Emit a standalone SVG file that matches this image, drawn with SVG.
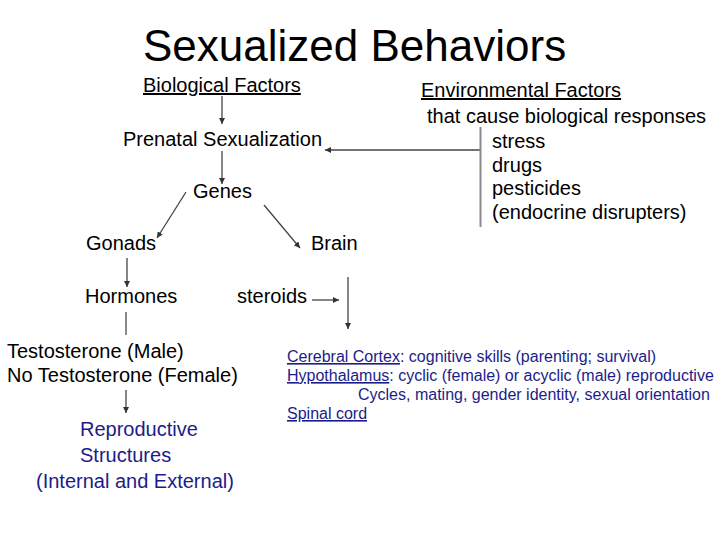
<svg xmlns="http://www.w3.org/2000/svg" width="720" height="540" viewBox="0 0 720 540">
<style>
text{font-family:"Liberation Sans",Arial,sans-serif;font-size:20px;fill:#000}
.title{font-size:44px}
.ul{text-decoration:underline}
.blue{fill:#1c1c8a}
.small{font-size:16px}
.c{fill:none;stroke:#444;stroke-width:1.3}
.g{fill:none;stroke:#8a8a8a;stroke-width:2}
</style>
<defs>
<marker id="ah" markerUnits="userSpaceOnUse" markerWidth="6" markerHeight="6" refX="6" refY="3" orient="auto">
<path d="M0,0 L6,3 L0,6 z" fill="#333"/>
</marker>
</defs>
<rect width="720" height="540" fill="#fff"/>
<g id="title"><text class="title" x="143" y="61">Sexualized Behaviors</text></g>
<g id="biological"><text class="ul" x="143" y="92">Biological Factors</text></g>
<g id="environmental">
<text class="ul" x="421" y="97">Environmental Factors</text>
<text x="427" y="123">that cause biological responses</text>
<text x="492" y="148">stress</text>
<text x="492" y="172">drugs</text>
<text x="492" y="195">pesticides</text>
<text x="492" y="219">(endocrine disrupters)</text>
</g>
<g id="prenatal"><text x="123" y="146">Prenatal Sexualization</text></g>
<g id="genes"><text x="193" y="198">Genes</text></g>
<g id="gonads"><text x="86" y="250">Gonads</text></g>
<g id="brain"><text x="311" y="250">Brain</text></g>
<g id="hormones"><text x="85" y="303">Hormones</text></g>
<g id="steroids"><text x="237" y="303">steroids</text></g>
<g id="testosterone">
<text x="7" y="358">Testosterone (Male)</text>
<text x="7" y="382">No Testosterone (Female)</text>
</g>
<g id="reproductive">
<text class="blue" x="80" y="436">Reproductive</text>
<text class="blue" x="80" y="462">Structures</text>
<text class="blue" x="36" y="488">(Internal and External)</text>
</g>
<g id="brain-regions">
<text class="blue small" x="287" y="362"><tspan class="ul">Cerebral Cortex</tspan>: cognitive skills (parenting; survival)</text>
<text class="blue small" x="287" y="381"><tspan class="ul">Hypothalamus</tspan>: cyclic (female) or acyclic (male) reproductive</text>
<text class="blue small" x="358" y="400">Cycles, mating, gender identity, sexual orientation</text>
<text class="blue small ul" x="287" y="419">Spinal cord</text>
</g>
<g id="connectors">
<line class="c" x1="222" y1="96" x2="222" y2="124" marker-end="url(#ah)"/>
<line class="c" x1="222" y1="151" x2="222" y2="184" marker-end="url(#ah)"/>
<line class="c" x1="186" y1="192" x2="157" y2="238" marker-end="url(#ah)"/>
<line class="c" x1="264" y1="205" x2="300" y2="248" marker-end="url(#ah)"/>
<line class="c" x1="127" y1="258" x2="127" y2="287" marker-end="url(#ah)"/>
<line class="g" x1="126" y1="312" x2="126" y2="335"/>
<line class="c" x1="312" y1="300" x2="339" y2="300" marker-end="url(#ah)"/>
<line class="c" x1="348" y1="277" x2="348" y2="329" marker-end="url(#ah)"/>
<line class="c" x1="480" y1="150" x2="325" y2="150" marker-end="url(#ah)"/>
<line class="g" x1="480.5" y1="127" x2="480.5" y2="227"/>
<line class="c" x1="126" y1="390" x2="126" y2="413" marker-end="url(#ah)"/>
</g>
</svg>
